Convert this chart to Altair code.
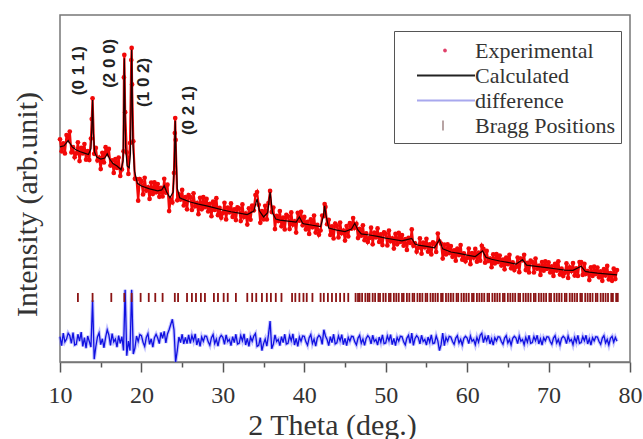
import altair as alt
import pandas as pd

# ---------------- data (arbitrary intensity units) ----------------
TT_START = 10.0
TT_STEP = 0.2

EXPERIMENTAL = [
    64.2, 60.7, 63.0, 60.1, 65.4, 64.1, 66.4, 60.4, 61.9, 59.0,
    60.1, 63.3, 57.9, 61.7, 60.1, 62.8, 58.3, 60.8, 58.2, 64.4,
    76.0, 60.0, 61.7, 58.1, 58.9, 55.6, 60.3, 57.5, 61.9, 60.0,
    61.4, 56.6, 58.1, 54.5, 58.5, 55.9, 58.9, 53.6, 55.5, 60.7,
    72.0, 60.4, 54.2, 63.1, 90.5, 63.6, 52.8, 52.7, 46.5, 52.7,
    52.1, 48.3, 53.1, 49.4, 50.3, 47.0, 51.7, 48.4, 51.8, 48.9,
    51.3, 47.6, 50.2, 47.7, 52.8, 48.8, 51.1, 43.5, 46.8, 46.0,
    54.5, 64.0, 46.6, 48.3, 46.8, 49.6, 45.1, 47.5, 44.0, 48.1,
    47.5, 43.8, 48.6, 44.9, 45.8, 42.6, 47.3, 44.0, 47.5, 44.6,
    47.0, 43.4, 45.6, 42.0, 46.2, 43.8, 47.2, 42.3, 44.4, 41.6,
    42.9, 45.9, 41.1, 44.5, 43.1, 45.7, 41.8, 44.0, 40.9, 44.6,
    44.3, 40.6, 45.4, 41.8, 42.8, 39.6, 44.3, 41.0, 45.1, 43.7,
    48.1, 49.0, 45.3, 40.1, 43.5, 41.1, 45.0, 41.1, 45.8, 49.3,
    43.2, 44.5, 38.3, 42.1, 40.6, 43.5, 39.1, 41.6, 38.2, 42.4,
    42.0, 38.3, 43.1, 39.6, 40.5, 37.3, 43.0, 40.7, 43.3, 39.4,
    41.8, 38.2, 40.4, 36.9, 41.1, 38.8, 42.2, 37.3, 39.5, 36.7,
    37.9, 42.2, 42.0, 44.7, 39.7, 41.0, 36.6, 39.1, 35.6, 39.9,
    39.3, 35.9, 40.2, 37.1, 37.9, 35.0, 39.2, 36.2, 40.0, 38.4,
    41.5, 38.7, 39.8, 35.7, 38.4, 36.4, 39.4, 35.1, 37.1, 34.6,
    35.7, 38.7, 33.9, 37.3, 35.9, 38.5, 34.6, 36.8, 33.7, 37.4,
    37.0, 33.6, 37.9, 34.8, 35.6, 32.7, 36.9, 33.9, 37.2, 34.6,
    36.6, 33.5, 35.4, 32.3, 35.8, 34.3, 38.2, 33.5, 34.2, 31.8,
    32.9, 35.6, 31.2, 34.4, 33.1, 35.5, 31.8, 33.9, 31.0, 34.5,
    34.1, 31.7, 37.0, 34.8, 34.1, 29.8, 33.8, 31.0, 33.9, 31.4,
    33.4, 30.3, 32.2, 29.2, 32.7, 30.8, 33.7, 29.5, 31.3, 29.0,
    30.0, 32.7, 28.2, 31.4, 30.1, 32.6, 28.9, 31.5, 29.2, 33.5,
    32.6, 28.6, 32.0, 29.1, 29.8, 27.3, 31.0, 28.4, 31.1, 28.8,
    30.7, 27.8, 29.5, 26.7, 30.1, 28.2, 30.9, 27.0, 28.7, 26.5,
    27.4, 30.1, 25.9, 29.8, 29.3, 30.9, 26.5, 28.6, 25.8, 29.2,
    28.8, 25.8, 29.8, 26.9, 27.7, 25.1, 28.8, 26.3, 29.0, 26.8,
    28.7, 25.8, 27.6, 24.8, 28.3, 26.3, 29.0, 25.2, 26.9, 24.8,
    25.7, 28.4, 24.2, 27.3, 26.2, 28.5, 24.9, 27.0, 24.8, 28.8,
    28.8, 25.1, 28.3, 25.4, 26.2, 23.6, 27.3, 24.8, 27.5, 25.3,
    27.2, 24.4, 26.1, 23.4, 26.8, 24.9, 27.7, 23.8, 25.6, 23.4, 26.9, 23.9, 26.5,
]

# extra observed points on the sharp reflections
EXP_PEAK_TT = [13.9, 17.85, 17.9, 18.75, 18.85, 24.1, 24.15, 42.5]
EXP_PEAK_I = [70.0, 82.0, 88.5, 87.0, 80.0, 66.0, 70.3, 45.5]

DIFFERENCE = [
    1.0, -1.6, 2.0, -0.5, 0.3, 2.0, 1.3, -0.9, 2.2, -1.4,
    -1.2, 1.7, -0.3, 2.3, -1.8, 0.7, -2.3, 1.2, -0.4, -2.0,
    11.5, -5.5, -1.9, 0.9, 2.1, -1.3, 0.4, -2.2, 0.8, 3.0,
    1.5, -1.5, 1.9, -0.5, 0.3, -2.0, 1.3, -0.9, 1.0, -3.0,
    14.5, -4.5, -0.3, -3.0, 14.5, -4.0, -2.3, 1.2, -0.4, 1.6,
    1.3, -0.6, -1.8, 0.8, 1.9, -1.2, 0.4, -2.0, 0.7, 1.7,
    0.6, -1.0, 2.2, 0.5, 2.5, -0.8, 1.8, 3.0, 4.5, 6.0,
    3.0, -6.3, -3.0, 0.9, -0.7, 1.7, -1.1, 0.8, -1.0, 1.5,
    -0.9, 1.3, -0.2, 1.8, -1.4, 0.5, -1.8, 0.9, -0.3, 1.2,
    1.1, -0.5, -1.5, 0.7, 1.6, -1.0, 0.3, -1.7, 0.6, 1.4,
    0.8, -1.2, 1.5, -0.4, 0.2, -1.6, 1.0, -0.7, 1.7, -1.1,
    -0.9, 1.3, -0.2, 1.8, -1.4, 0.5, -1.8, 0.9, -0.3, 1.2,
    1.9, -1.8, -1.5, 0.7, -3.0, -1.0, 0.3, -1.7, 1.5, 5.5,
    -2.5, -1.2, 1.5, -0.4, 0.2, -1.6, 1.0, -0.7, 1.7, -1.1,
    -0.9, 1.3, -0.2, 1.8, -1.4, 0.5, -1.8, 0.9, -0.3, 1.2,
    1.1, -0.5, -1.5, 0.7, 1.6, -1.0, 0.3, -1.7, 0.6, 1.4,
    0.8, -1.2, 3.0, 1.2, 0.2, -1.6, 1.0, -0.7, 1.7, -1.1,
    -0.8, 1.2, -0.2, 1.6, -1.3, 0.5, -1.6, 0.8, -0.3, 1.1,
    1.0, -0.5, -1.4, 0.6, 1.4, -0.9, 0.3, -1.5, 0.5, 1.3,
    0.7, -1.1, 1.4, -0.4, 0.2, -1.4, 0.9, -0.6, 1.5, -1.0,
    -0.8, 1.2, -0.2, 1.6, -1.3, 0.5, -1.6, 0.8, -0.3, 1.1,
    1.0, -0.5, -1.4, 0.6, 1.4, -0.9, 2.0, -1.5, 0.5, 1.3,
    0.7, -1.1, 1.4, -0.4, 0.2, -1.4, 0.9, -0.6, 1.5, -1.0,
    -0.8, 1.2, -0.2, -3.0, -1.3, 2.0, -1.6, 0.8, -0.3, 1.1,
    0.9, -0.4, -1.2, 0.6, 1.3, -0.8, 0.2, -1.4, 0.5, 1.1,
    0.6, -1.0, 1.2, -0.3, 0.2, -1.3, 0.8, -0.6, 1.4, 2.0,
    -0.7, 1.0, -0.2, 1.4, -1.1, 0.4, -1.4, 0.7, -0.2, 1.0,
    0.9, -0.4, -1.2, 0.6, 1.3, -0.8, 0.2, -1.4, 0.5, 1.1,
    0.6, -1.0, 1.2, -0.3, 0.2, -1.3, 0.8, -0.6, 1.4, -0.9,
    -0.7, 1.0, -0.2, 1.4, -1.1, 0.4, -1.4, 0.7, -0.2, 1.0,
    0.9, -0.4, -1.2, 0.6, 1.3, -0.8, 0.2, -1.4, 0.5, 1.1,
    0.6, -1.0, 1.2, -0.3, 0.2, -1.3, 0.8, -0.6, 1.4, -0.9,
    -0.7, 1.0, -0.2, 1.4, -1.1, 0.4, -1.4, 0.7, -0.2, 1.0,
    0.9, -0.4, -1.2, 0.6, 1.3, -0.8, 0.2, -1.4, 0.5, 1.1, -0.6, 0.8, -0.3,
]
DIFF_OFFSET = 6.3

CALC_TT = [10.0, 10.5, 11.0, 11.5, 12.0, 12.5, 13.0, 13.5, 13.8, 13.9, 14.0, 14.1, 14.25, 14.5,
           15.0, 15.5, 15.8, 16.1, 16.5, 17.0, 17.5, 17.75, 17.85, 17.9, 17.95, 18.05, 18.25,
           18.5, 18.65, 18.75, 18.8, 18.85, 18.95, 19.15, 19.5, 20.0, 21.0, 22.0, 22.5, 22.8,
           23.1, 23.5, 23.9, 24.05, 24.15, 24.25, 24.4, 24.7, 25.0, 26.0, 27.0, 28.0, 29.0,
           30.0, 31.0, 32.0, 33.0, 33.8, 34.2, 34.5, 35.0, 35.5, 35.8, 36.1, 36.5, 37.0, 38.0,
           39.0, 39.4, 39.8, 40.0, 41.0, 42.0, 42.35, 42.5, 42.65, 43.0, 44.0, 45.0, 45.8,
           46.2, 46.6, 47.0, 48.0, 49.0, 50.0, 51.0, 52.0, 53.2, 53.6, 54.0, 55.0, 56.0, 56.6,
           57.0, 58.0, 59.0, 60.0, 61.0, 61.9, 62.3, 63.0, 64.0, 65.0, 66.0, 66.8, 67.3, 68.0,
           69.0, 70.0, 71.0, 72.0, 73.0, 74.0, 74.5, 75.0, 76.0, 77.0, 78.4]
CALC_I = [62.0, 62.3, 63.8, 62.0, 61.1, 60.6, 60.2, 59.8, 61.5, 67.0, 75.5, 66.0, 60.5, 59.1,
          58.5, 58.8, 60.0, 58.5, 57.2, 56.5, 55.4, 58.0, 76.0, 87.5, 78.0, 62.0, 56.5,
          56.0, 60.0, 80.0, 90.0, 82.0, 63.0, 55.0, 51.5, 50.7, 49.9, 49.3, 49.6, 50.8,
          49.0, 47.3, 49.0, 58.0, 69.5, 60.0, 50.0, 47.3, 47.0, 46.1, 45.5, 45.0, 44.4,
          43.8, 43.3, 42.9, 42.5, 43.5, 47.0, 43.5, 41.8, 43.0, 49.0, 43.0, 41.2, 40.9, 40.6,
          40.3, 41.8, 40.0, 39.8, 39.4, 39.0, 42.0, 45.0, 42.5, 38.6, 38.0, 37.6, 38.3,
          40.0, 38.0, 36.9, 36.6, 36.2, 35.7, 35.3, 34.9, 35.6, 34.0, 33.7, 33.3, 32.9, 35.3,
          32.6, 31.7, 31.3, 30.8, 30.4, 32.0, 30.2, 29.6, 29.1, 28.7, 28.2, 29.5, 27.9, 27.7,
          27.4, 27.1, 26.8, 26.5, 26.4, 27.6, 26.1, 25.9, 25.6, 25.4, 25.1]

BRAGG_TT = [12.2, 14.0, 16.3, 17.9, 18.8, 19.9, 20.9, 21.7, 22.6, 24.1, 24.5, 25.6, 26.2, 26.7,
            27.3, 27.8, 28.9, 29.4, 30.1, 30.6, 31.6, 33.0, 33.6, 34.1, 34.8, 35.4, 35.9, 36.5,
            37.2, 38.5, 38.9, 39.4, 39.9, 40.3, 41.0, 42.0, 42.4, 42.9, 43.4, 43.9, 44.4, 44.9,
            45.4, 46.3, 46.6, 46.8, 47.1, 47.5, 47.8, 48.0, 48.4, 48.7, 49.1, 49.3, 49.7, 50.0,
            50.4, 50.6, 51.0, 51.3, 51.6, 52.0, 52.2, 52.6, 52.9, 53.3, 53.5, 53.9, 54.2, 54.5,
            54.9, 55.1, 55.5, 55.8, 56.1, 56.4, 56.8, 57.0, 57.4, 57.7, 58.0, 58.3, 58.7, 58.9,
            59.3, 59.6, 59.9, 60.2, 60.6, 60.8, 61.2, 61.5, 61.8, 62.1, 62.5, 62.7, 63.1, 63.4,
            63.7, 64.0, 64.4, 64.6, 65.0, 65.3, 65.6, 65.9, 66.3, 66.5, 66.9, 67.2, 67.5, 67.8,
            68.2, 68.4, 68.8, 69.1, 69.4, 69.7, 70.1, 70.3, 70.7, 71.0, 71.3, 71.6, 72.0, 72.2,
            72.6, 72.9, 73.2, 73.5, 73.9, 74.1, 74.5, 74.8, 75.1, 75.4, 75.8, 76.0, 76.4, 76.7,
            77.0, 77.3, 77.7, 77.9, 78.3, 78.5]
BRAGG_LO = 17.3
BRAGG_HI = 19.9

HKL_TEXT = ["(0 1 1)", "(2 0 0)", "(1 0 2)", "(0 2 1)"]
HKL_TT = [12.33, 16.14, 20.32, 25.84]
HKL_I = [76.9, 79.0, 73.5, 65.4]

SERIES = ["Experimental", "Calculated", "difference", "Bragg Positions"]
X_TICKS = [10, 15, 20, 25, 30, 35, 40, 45, 50, 55, 60, 65, 70, 75, 80]

assert len(EXPERIMENTAL) == len(DIFFERENCE) == 343

# ---------------- tables ----------------
grid = [round(TT_START + TT_STEP * i, 2) for i in range(len(EXPERIMENTAL))]
exp_df = pd.DataFrame({"tt": grid + EXP_PEAK_TT, "intensity": EXPERIMENTAL + EXP_PEAK_I})
calc_df = pd.DataFrame({"tt": CALC_TT, "intensity": CALC_I})
diff_df = pd.DataFrame({"tt": grid, "diff": DIFFERENCE})
bragg_df = pd.DataFrame({"tt": BRAGG_TT})
hkl_df = pd.DataFrame({"tt": HKL_TT, "intensity": HKL_I, "hkl": HKL_TEXT})
legend_df = pd.DataFrame({"series": SERIES})

SERIF = "Times New Roman, Liberation Serif, DejaVu Serif, serif"
SANS = "Arial, Liberation Sans, sans-serif"

x_axis = alt.Axis(
    values=X_TICKS,
    labelExpr="datum.value % 10 === 0 ? datum.label : ''",
    tickSize=alt.condition("datum.value % 10 === 0", alt.value(10), alt.value(5)),
    tickColor="#555", tickWidth=1.5,
    domainColor="#777", domainWidth=1.5,
    labelFont=SERIF, labelFontSize=24, labelColor="#333",
    labelBaseline="alphabetic", labelPadding=30, labelFlush=False, labelOverlap=False,
    title="2 Theta (deg.)", titleFont=SERIF, titleFontSize=30, titleFontWeight="normal",
    titleColor="#333", titleBaseline="alphabetic", titleY=72, titleX=272, grid=False,
)
y_axis = alt.Axis(
    labels=False, ticks=False, domain=False, grid=False,
    title="Intensity (arb.unit)", titleFont=SERIF, titleFontSize=30, titleFontWeight="normal",
    titleColor="#333", titleAngle=270, titleBaseline="alphabetic", titleAlign="center",
    titleX=-24, titleY=189,
)

X = alt.X("tt:Q", scale=alt.Scale(domain=[10, 80], nice=False, zero=False), axis=x_axis)
Y = alt.Y("intensity:Q", scale=alt.Scale(domain=[0, 100], nice=False, zero=False), axis=y_axis)

# experimental trace: dense scatter drawn as a zig-zag plus dots
exp_trace = alt.Chart(exp_df).mark_line(color="#f20808", strokeWidth=2.2).encode(x=X, y=Y)
exp_layer = alt.Chart(exp_df).mark_circle(size=22, color="#f20808", opacity=1).encode(x=X, y=Y)

calc_layer = alt.Chart(calc_df).mark_line(color="#1a0000", strokeWidth=1.2).encode(x=X, y=Y)

diff_base = alt.Chart(diff_df).transform_calculate(intensity=f"datum.diff + {DIFF_OFFSET}")
diff_halo = diff_base.mark_line(color="#7a7aff", strokeWidth=3.5, opacity=0.45).encode(x=X, y=Y)
diff_layer = diff_base.mark_line(color="#1010e0", strokeWidth=1.3).encode(x=X, y=Y)

bragg_layer = alt.Chart(bragg_df).mark_rule(color="#8b1414", strokeWidth=1.8).encode(
    x=X, y=alt.datum(BRAGG_LO), y2=alt.datum(BRAGG_HI)
)

hkl_layer = alt.Chart(hkl_df).mark_text(
    angle=270, align="left", baseline="middle", font=SANS,
    fontSize=17, fontWeight="bold", color="#222"
).encode(x=X, y=Y, text="hkl:N")

PATHS = [
    "M2.44,0a0.08,0.08 0 1,0 0.16,0a0.08,0.08 0 1,0 -0.16,0",
    "M0.28,0H4.92",
    "M0.28,0H4.92",
    "M2.36,-0.4V0.4",
]
LEGEND_COLORS = ["#e0406a", "#222222", "#a8a8ee", "#b09a9a"]
leg = alt.Legend(
    title=None, orient="none", legendX=334, legendY=16,
    symbolSize=625, symbolStrokeWidth=1.8, symbolOpacity=1,
    labelFont=SERIF, labelFontSize=22, labelColor="#333", labelOffset=48,
    rowPadding=0, padding=6, strokeColor="#555", fillColor="white",
)
legend_layer = (
    alt.Chart(legend_df)
    .transform_filter("false")
    .mark_point(filled=False, opacity=1)
    .encode(
        color=alt.Color("series:N", scale=alt.Scale(domain=SERIES, range=LEGEND_COLORS), legend=leg),
        shape=alt.Shape("series:N", scale=alt.Scale(domain=SERIES, range=PATHS), legend=leg),
    )
)

chart = (
    alt.layer(exp_trace, exp_layer, calc_layer, diff_halo, diff_layer, bragg_layer, hkl_layer,
              legend_layer)
    .properties(
        width=570, height=347, autosize="none",
        padding={"left": 60, "top": 15, "right": 13, "bottom": 77},
        background="white",
    )
    .configure_view(stroke="#777", strokeWidth=1.5)
)

chart.save("out.html", embed_options={"renderer": "svg", "actions": False})
